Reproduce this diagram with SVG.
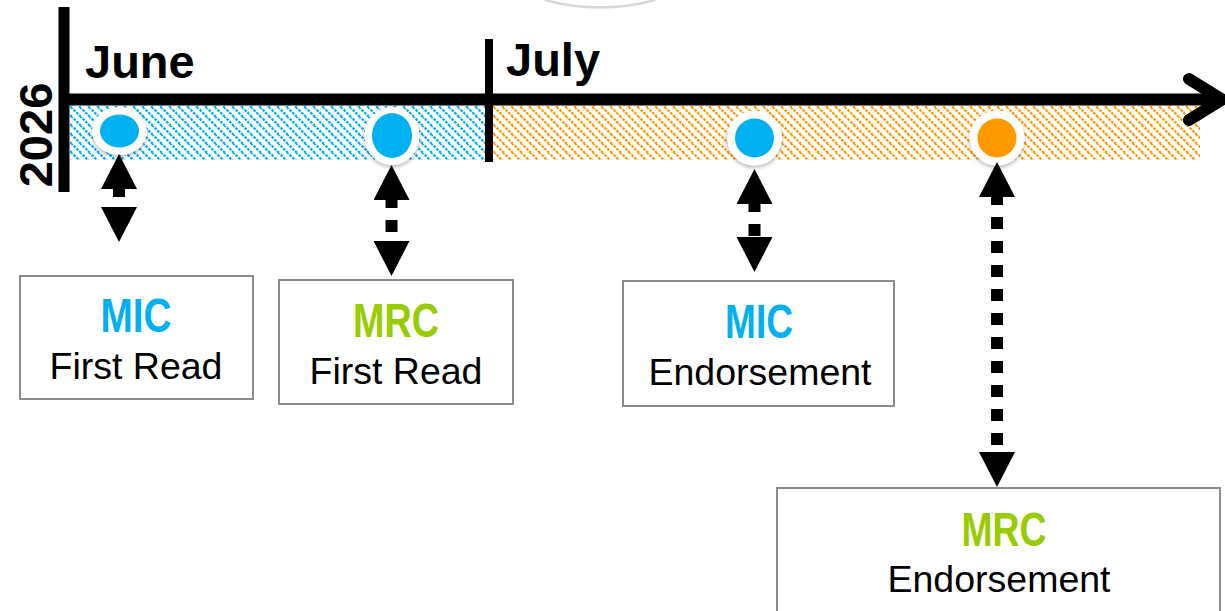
<svg xmlns="http://www.w3.org/2000/svg" width="1225" height="611" viewBox="0 0 1225 611">
<style>
.box{fill:#fff;stroke:#8c8c8c;stroke-width:2}
.head{font-family:"Liberation Sans",Arial,sans-serif;font-weight:bold;font-size:48px;text-anchor:middle}
.sub{font-family:"Liberation Sans",Arial,sans-serif;font-size:37.5px;text-anchor:middle;fill:#000}
.mic{fill:#00B0F0}
.mrc{fill:#99CC00}
.month{font-family:"Liberation Sans",Arial,sans-serif;font-weight:bold;font-size:47px;fill:#000}
.conn{stroke:#000;stroke-width:12;fill:none;stroke-dasharray:12 12;stroke-dashoffset:4;marker-start:url(#ah);marker-end:url(#ah)}
.ring{fill:#fff;filter:url(#sh)}
</style>
<defs>
<pattern id="hb" width="9" height="9" patternUnits="userSpaceOnUse">
<path d="M-1,-1 L10,10 M-10,-1 L1,10 M8,-1 L19,10" stroke="#00B0F0" stroke-width="2.3" stroke-dasharray="2.6 1.2"/>
</pattern>
<pattern id="ho" width="9" height="9" patternUnits="userSpaceOnUse">
<path d="M-1,-1 L10,10 M-10,-1 L1,10 M8,-1 L19,10" stroke="#FF9900" stroke-width="2.3" stroke-dasharray="2.6 1.2"/>
</pattern>
<marker id="ah" viewBox="0 -18 35 36" markerWidth="35" markerHeight="36" refX="0" refY="0" markerUnits="userSpaceOnUse" orient="auto-start-reverse">
<path d="M0,-18 L35,0 L0,18 Z" fill="#000"/>
</marker>
<filter id="sh" x="-30%" y="-30%" width="160%" height="170%">
<feDropShadow dx="0" dy="2" stdDeviation="2" flood-color="#000" flood-opacity="0.3"/>
</filter>
</defs>
<path d="M545,0 A211,211 0 0 0 655,0" fill="none" stroke="#d6d6d6" stroke-width="2.5"/>
<g id="timeline">
<rect x="70" y="106" width="416" height="54" fill="url(#hb)"/>
<rect x="493" y="106" width="707" height="54" fill="url(#ho)"/>
<line x1="64" y1="7" x2="64" y2="192" stroke="#000" stroke-width="11"/>
<line x1="489" y1="39" x2="489" y2="162" stroke="#000" stroke-width="8"/>
<line x1="59" y1="99.5" x2="1220" y2="99.5" stroke="#000" stroke-width="12"/>
<polyline points="1189,79 1222,99.5 1189,120" fill="none" stroke="#000" stroke-width="12" stroke-linecap="round" stroke-linejoin="round"/>
<text class="month" x="85" y="78">June</text>
<text class="month" x="506" y="76">July</text>
<text class="month" transform="translate(52,135) rotate(-90)" text-anchor="middle">2026</text>
</g>
<g id="markers">
<g id="dot1"><ellipse class="ring" cx="119.5" cy="131" rx="27.5" ry="24"/><ellipse cx="119.5" cy="131" rx="19.5" ry="16.5" fill="#00B0F0"/></g>
<g id="dot2"><ellipse class="ring" cx="392" cy="136" rx="27.5" ry="29"/><ellipse cx="392" cy="135.5" rx="20" ry="22.5" fill="#00B0F0"/></g>
<g id="dot3"><circle class="ring" cx="754.5" cy="138" r="27.5"/><circle cx="754.5" cy="138" r="19.5" fill="#00B0F0"/></g>
<g id="dot4"><circle class="ring" cx="997" cy="138" r="27.5"/><circle cx="997" cy="138" r="19.5" fill="#FF9900"/></g>
</g>
<g id="connectors">
<path class="conn" d="M119,189 L119,207"/>
<path class="conn" d="M391.5,200 L391.5,241"/>
<path class="conn" d="M754.5,204 L754.5,237"/>
<path class="conn" d="M997,197 L997,452"/>
</g>
<g id="mic-first-read">
<rect class="box" x="20" y="276" width="233" height="123"/>
<text class="head mic" x="136" y="332" textLength="71" lengthAdjust="spacingAndGlyphs">MIC</text>
<text class="sub" x="136" y="379">First Read</text>
</g>
<g id="mrc-first-read">
<rect class="box" x="279" y="280" width="234" height="124"/>
<text class="head mrc" x="396" y="337" textLength="86" lengthAdjust="spacingAndGlyphs">MRC</text>
<text class="sub" x="396" y="384">First Read</text>
</g>
<g id="mic-endorsement">
<rect class="box" x="623" y="281" width="271" height="125"/>
<text class="head mic" x="759" y="338" textLength="68" lengthAdjust="spacingAndGlyphs">MIC</text>
<text class="sub" x="760" y="385">Endorsement</text>
</g>
<g id="mrc-endorsement">
<rect class="box" x="777" y="488" width="443" height="140"/>
<text class="head mrc" x="1004" y="546" textLength="85" lengthAdjust="spacingAndGlyphs">MRC</text>
<text class="sub" x="999" y="592">Endorsement</text>
</g>
</svg>
